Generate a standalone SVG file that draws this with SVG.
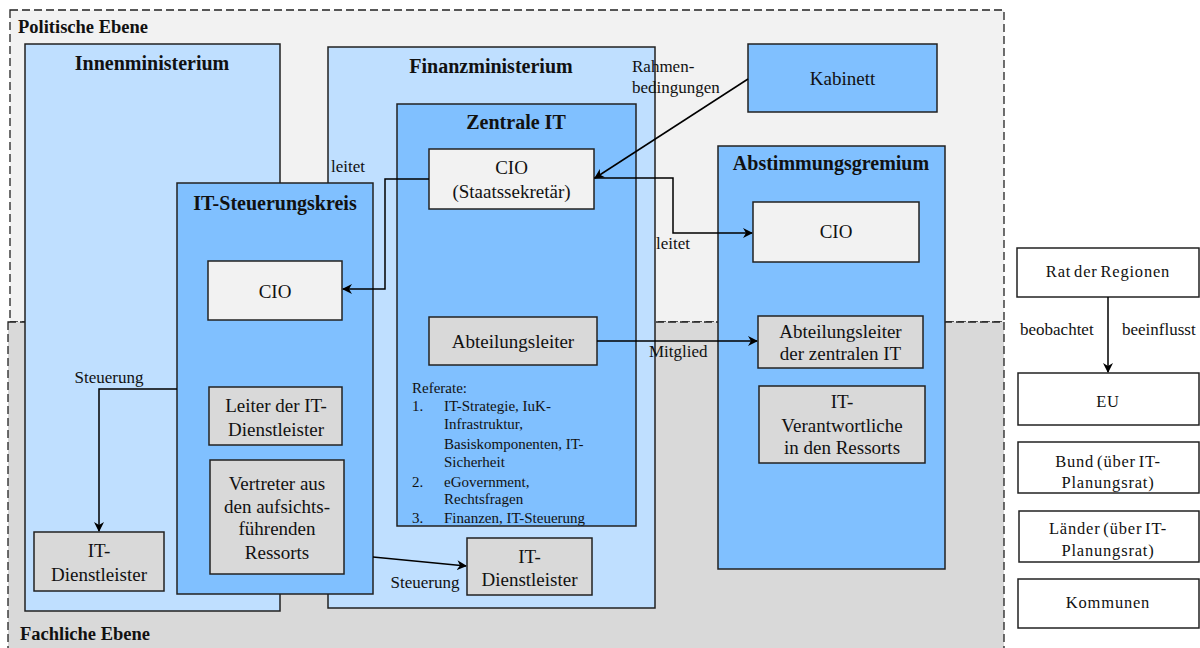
<svg xmlns="http://www.w3.org/2000/svg" width="1200" height="648" viewBox="0 0 1200 648">
  <defs>
    <marker id="arrow" viewBox="0 0 10 10" refX="9" refY="5" markerWidth="10" markerHeight="10" markerUnits="userSpaceOnUse" orient="auto">
      <path d="M0,0 L10,5 L0,10 L3,5 Z" fill="#000"/>
    </marker>
    <style>
      text { font-family: "Liberation Serif", "Times New Roman", serif; fill: #111; }
      .zone { stroke: #222; stroke-width: 1.3; stroke-dasharray: 8 4; }
      .box { stroke: #222; stroke-width: 1.5; }
      .light { fill: #bfdfff; }
      .mid { fill: #80c0ff; }
      .pale { fill: #f2f2f2; }
      .grey { fill: #d9d9d9; }
      .white { fill: #ffffff; }
      .title { font-size: 20px; font-weight: bold; text-anchor: middle; }
      .zonetitle { font-size: 18.5px; font-weight: bold; }
      .lbl { font-size: 19px; text-anchor: middle; }
      .edge { font-size: 17px; }
      .ref { font-size: 15px; }
      .side { font-size: 16.5px; text-anchor: middle; letter-spacing: 0.8px; word-spacing: -2px; }
      .conn { fill: none; stroke: #000; stroke-width: 1.5; }
    </style>
  </defs>

  <!-- level backgrounds -->
  <g id="politische-ebene">
    <rect class="zone" x="10" y="10" width="994" height="312" fill="#f2f2f2"/>
    <text class="zonetitle" x="18" y="33">Politische Ebene</text>
  </g>
  <g id="fachliche-ebene">
    <rect class="zone" x="8" y="322" width="996" height="340" fill="#d9d9d9"/>
    <text class="zonetitle" x="20" y="640">Fachliche Ebene</text>
  </g>

  <!-- ministries -->
  <g id="innenministerium">
    <rect class="box light" x="25" y="44" width="255" height="567"/>
    <text class="title" x="152" y="70">Innenministerium</text>
  </g>
  <g id="finanzministerium">
    <rect class="box light" x="328" y="47" width="327" height="561"/>
    <text class="title" x="491" y="73">Finanzministerium</text>
  </g>

  <g id="zentrale-it">
    <rect class="box mid" x="397" y="104" width="239" height="422"/>
    <text class="title" x="516" y="129">Zentrale IT</text>
  </g>
  <g id="cio-staatssekretaer">
    <rect class="box pale" x="429" y="149" width="165" height="60"/>
    <text class="lbl" x="511.5" y="174">CIO</text>
    <text class="lbl" x="511.5" y="198">(Staatssekretär)</text>
  </g>
  <g id="abteilungsleiter">
    <rect class="box grey" x="429" y="317" width="168" height="48"/>
    <text class="lbl" x="513" y="348">Abteilungsleiter</text>
  </g>
  <g id="referate">
    <text class="ref" x="412" y="393">Referate:</text>
    <text class="ref" x="412" y="411">1.</text>
    <text class="ref" x="444" y="411">IT-Strategie, IuK-</text>
    <text class="ref" x="444" y="429">Infrastruktur,</text>
    <text class="ref" x="444" y="449">Basiskomponenten, IT-</text>
    <text class="ref" x="444" y="467">Sicherheit</text>
    <text class="ref" x="412" y="487">2.</text>
    <text class="ref" x="444" y="487">eGovernment,</text>
    <text class="ref" x="444" y="504">Rechtsfragen</text>
    <text class="ref" x="412" y="523">3.</text>
    <text class="ref" x="444" y="523">Finanzen, IT-Steuerung</text>
  </g>

  <g id="it-steuerungskreis">
    <rect class="box mid" x="177" y="183" width="196" height="411"/>
    <text class="title" x="275" y="210">IT-Steuerungskreis</text>
  </g>
  <g id="cio-steuerungskreis">
    <rect class="box pale" x="208" y="261" width="134" height="59"/>
    <text class="lbl" x="275" y="298">CIO</text>
  </g>
  <g id="leiter-it-dienstleister">
    <rect class="box grey" x="209" y="387" width="133" height="58"/>
    <text class="lbl" x="276" y="412">Leiter der IT-</text>
    <text class="lbl" x="276" y="436">Dienstleister</text>
  </g>
  <g id="vertreter-ressorts">
    <rect class="box grey" x="210" y="460" width="134" height="114"/>
    <text class="lbl" x="277" y="490">Vertreter aus</text>
    <text class="lbl" x="277" y="513">den aufsichts-</text>
    <text class="lbl" x="277" y="535">führenden</text>
    <text class="lbl" x="277" y="559">Ressorts</text>
  </g>

  <g id="it-dienstleister-innen">
    <rect class="box grey" x="34" y="532" width="130" height="59"/>
    <text class="lbl" x="99" y="557">IT-</text>
    <text class="lbl" x="99" y="581">Dienstleister</text>
  </g>
  <g id="it-dienstleister-finanz">
    <rect class="box grey" x="467" y="538" width="125" height="57"/>
    <text class="lbl" x="529.5" y="563">IT-</text>
    <text class="lbl" x="529.5" y="586">Dienstleister</text>
  </g>

  <g id="kabinett">
    <rect class="box mid" x="748" y="44" width="189" height="68"/>
    <text class="lbl" x="842.5" y="85">Kabinett</text>
  </g>

  <g id="abstimmungsgremium">
    <rect class="box mid" x="718" y="146" width="227" height="423"/>
    <text class="title" x="831" y="170">Abstimmungsgremium</text>
  </g>
  <g id="cio-gremium">
    <rect class="box pale" x="753" y="202" width="166" height="60"/>
    <text class="lbl" x="836" y="238">CIO</text>
  </g>
  <g id="abteilungsleiter-zentrale-it">
    <rect class="box grey" x="758" y="316" width="165" height="52"/>
    <text class="lbl" x="840.5" y="338">Abteilungsleiter</text>
    <text class="lbl" x="840.5" y="360">der zentralen IT</text>
  </g>
  <g id="it-verantwortliche">
    <rect class="box grey" x="759" y="386" width="166" height="77"/>
    <text class="lbl" x="842" y="408">IT-</text>
    <text class="lbl" x="842" y="432">Verantwortliche</text>
    <text class="lbl" x="842" y="454">in den Ressorts</text>
  </g>

  <!-- multi-level column -->
  <g id="rat-der-regionen">
    <rect class="box white" x="1017" y="248" width="182" height="49"/>
    <text class="side" x="1108" y="277">Rat der Regionen</text>
  </g>
  <g id="eu">
    <rect class="box white" x="1018" y="373" width="181" height="52"/>
    <text class="side" x="1108" y="407">EU</text>
  </g>
  <g id="bund">
    <rect class="box white" x="1018" y="442" width="181" height="51"/>
    <text class="side" x="1108" y="467">Bund (über IT-</text>
    <text class="side" x="1108" y="488">Planungsrat)</text>
  </g>
  <g id="laender">
    <rect class="box white" x="1019" y="511" width="180" height="51"/>
    <text class="side" x="1108" y="534">Länder (über IT-</text>
    <text class="side" x="1108" y="556">Planungsrat)</text>
  </g>
  <g id="kommunen">
    <rect class="box white" x="1018" y="579" width="181" height="49"/>
    <text class="side" x="1108" y="608">Kommunen</text>
  </g>

  <!-- connectors -->
  <g id="connectors">
    <!-- Kabinett -> CIO (Staatssekretär) -->
    <path class="conn" d="M748,79 L595,178" marker-end="url(#arrow)"/>
    <text class="edge" x="632" y="72">Rahmen-</text>
    <text class="edge" x="632" y="93">bedingungen</text>

    <!-- CIO (Staatssekretär) leitet IT-Steuerungskreis -->
    <path class="conn" d="M429,179 L385,179 L385,289 L343,289" marker-end="url(#arrow)"/>
    <text class="edge" x="331" y="172">leitet</text>

    <!-- CIO (Staatssekretär) leitet Abstimmungsgremium -->
    <path class="conn" d="M594,178 L673,178 L673,233 L752,233" marker-end="url(#arrow)"/>
    <text class="edge" x="656" y="249">leitet</text>

    <!-- Abteilungsleiter Mitglied -->
    <path class="conn" d="M597,341 L757,341" marker-end="url(#arrow)"/>
    <text class="edge" x="649" y="357">Mitglied</text>

    <!-- Steuerung (Innenministerium) -->
    <path class="conn" d="M177,389 L99,389 L99,531" marker-end="url(#arrow)"/>
    <text class="edge" x="109" y="383" text-anchor="middle">Steuerung</text>

    <!-- Steuerung (Finanzministerium) -->
    <path class="conn" d="M373,557 L466,566" marker-end="url(#arrow)"/>
    <text class="edge" x="425" y="588" text-anchor="middle">Steuerung</text>

    <!-- Rat der Regionen -> EU -->
    <path class="conn" d="M1108,297 L1108,372" marker-end="url(#arrow)"/>
    <text class="edge" x="1020" y="335">beobachtet</text>
    <text class="edge" x="1122" y="335">beeinflusst</text>
  </g>
</svg>
